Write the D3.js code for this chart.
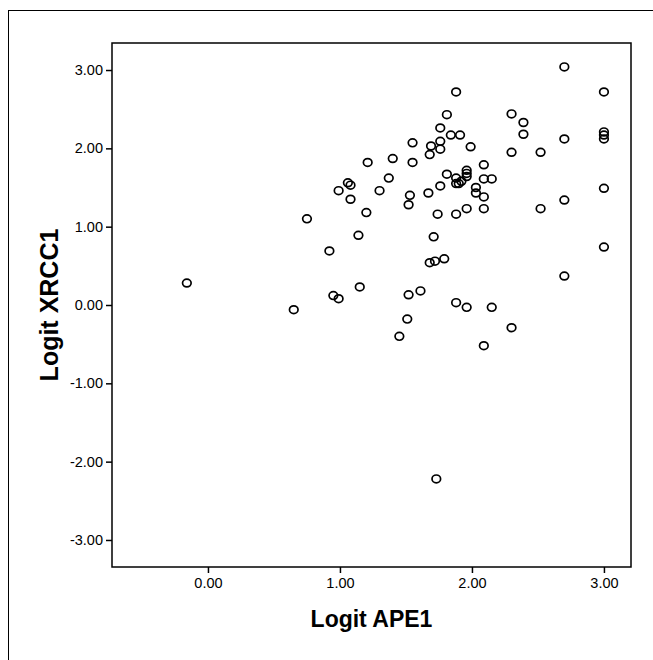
<!DOCTYPE html>
<html>
<head>
<meta charset="utf-8">
<script src="https://cdn.jsdelivr.net/npm/d3@7"></script>
<style>
  body { margin: 0; background: #fff; }
  svg { display: block; font-family: "Liberation Sans", Arial, Helvetica, sans-serif; }
</style>
</head>
<body>
<svg id="chart"></svg>
<script>
// values
const xVals = [-0.16, 0.65, 0.75, 0.92, 0.95, 0.99, 0.99, 1.06, 1.08, 1.08,
  1.14, 1.15, 1.20, 1.21, 1.30, 1.37, 1.40, 1.45, 1.51, 1.52,
  1.52, 1.53, 1.55, 1.55, 1.61, 1.67, 1.68, 1.68, 1.69, 1.71,
  1.72, 1.73, 1.74, 1.76, 1.76, 1.76, 1.76, 1.79, 1.81, 1.81,
  1.84, 1.88, 1.88, 1.88, 1.88, 1.88, 1.90, 1.91, 1.92, 1.96,
  1.96, 1.96, 1.96, 1.96, 1.99, 2.03, 2.03, 2.09, 2.09, 2.09,
  2.09, 2.09, 2.15, 2.15, 2.30, 2.30, 2.30, 2.39, 2.39, 2.52,
  2.52, 2.70, 2.70, 2.70, 2.70, 3.00, 3.00, 3.00, 3.00, 3.00, 3.00];
const yVals = [0.28, -0.06, 1.10, 0.69, 0.12, 0.08, 1.46, 1.56, 1.53, 1.35,
  0.89, 0.23, 1.18, 1.82, 1.46, 1.62, 1.87, -0.40, -0.18, 0.13,
  1.28, 1.40, 1.82, 2.07, 0.18, 1.43, 0.54, 1.92, 2.03, 0.87,
  0.56, -2.22, 1.16, 1.52, 1.99, 2.09, 2.26, 0.59, 1.67, 2.43,
  2.17, 0.03, 1.16, 1.55, 1.62, 2.72, 1.55, 2.17, 1.58, -0.03,
  1.23, 1.64, 1.68, 1.72, 2.02, 1.43, 1.50, -0.52, 1.23, 1.38,
  1.61, 1.79, -0.03, 1.61, -0.29, 1.95, 2.44, 2.18, 2.33, 1.23,
  1.95, 0.37, 1.34, 2.12, 3.04, 0.74, 1.49, 2.12, 2.17, 2.21, 2.72];
const xTicks = [0, 1, 2, 3];
const yTicks = [-3, -2, -1, 0, 1, 2, 3];
const xTitle = "Logit APE1";
const yTitle = "Logit XRCC1";

const W = 653, H = 660;
const margin = { top: 43, right: 22, bottom: 93, left: 112 },
  w = W - margin.left - margin.right,
  h = H - margin.top - margin.bottom;

const svg = d3.select("#chart").attr("width", W).attr("height", H);

svg.append("rect")
  .attr("width", W).attr("height", H).attr("fill", "#fff");

// outer frame (only left/top visible, runs off the page)
svg.append("rect")
  .attr("x", 8.5).attr("y", 10.5)
  .attr("width", W + 10).attr("height", H + 10)
  .attr("fill", "none").attr("stroke", "#000").attr("stroke-width", 1);

const g = svg.append("g").attr("transform", `translate(${margin.left},${margin.top})`);

const x = d3.scaleLinear().domain([-0.727, 3.205]).range([0, w]);
const y = d3.scaleLinear().domain([-3.345, 3.345]).range([h, 0]);

// plot box
g.append("rect")
  .attr("width", w).attr("height", h)
  .attr("fill", "none").attr("stroke", "#000").attr("stroke-width", 1.5);

// plain hyphen for negatives, like the original
const fmt = d3.formatLocale({ decimal: ".", thousands: ",", grouping: [3], currency: ["", ""], minus: "-" }).format(".2f");

const xAxis = g.append("g")
  .attr("transform", `translate(0,${h})`)
  .call(d3.axisBottom(x).tickValues(xTicks).tickFormat(fmt).tickSize(6).tickPadding(5));

const yAxis = g.append("g")
  .call(d3.axisLeft(y).tickValues(yTicks).tickFormat(fmt).tickSize(6).tickPadding(3));

[xAxis, yAxis].forEach(a => {
  a.select(".domain").remove();
  a.selectAll("line").attr("stroke", "#000").attr("stroke-width", 1.5);
  a.selectAll("text")
    .attr("fill", "#000")
    .style("font-family", '"Liberation Sans", Arial, sans-serif')
    .style("font-size", "14.5px");
});

// points
g.selectAll(".pt")
  .data(xVals.map((d, i) => [d, yVals[i]]))
  .join("ellipse")
  .attr("class", "pt")
  .attr("cx", d => x(d[0]))
  .attr("cy", d => y(d[1]))
  .attr("rx", 4.3)
  .attr("ry", 3.9)
  .attr("fill", "none")
  .attr("stroke", "#000")
  .attr("stroke-width", 1.7);

// axis titles
g.append("text")
  .attr("x", w / 2)
  .attr("y", h + 60)
  .attr("text-anchor", "middle")
  .style("font-weight", "bold")
  .style("font-size", "23px")
  .text(xTitle);

g.append("text")
  .attr("transform", "rotate(-90)")
  .attr("x", -h / 2)
  .attr("y", -54)
  .attr("text-anchor", "middle")
  .style("font-weight", "bold")
  .style("font-size", "25px")
  .text(yTitle);
</script>
</body>
</html>
